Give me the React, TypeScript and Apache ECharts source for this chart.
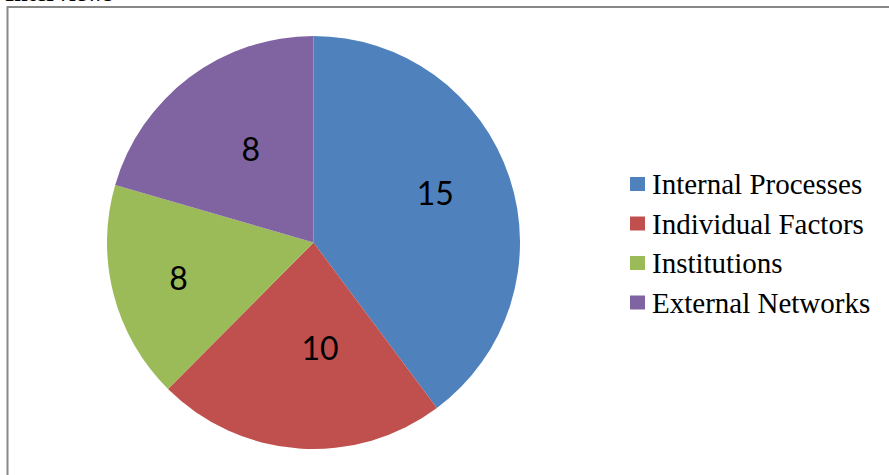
import React, { useEffect, useRef } from "react";
import * as echarts from "echarts";

const categories = ["Internal Processes", "Individual Factors", "Institutions", "External Networks"];
// slice sizes (degrees of the circle)
const sliceDegrees = [143.3, 81.5, 61.4, 73.8];
// values printed on the slices
const labelValues = [15, 10, 8, 8];
const colors = ["#4F81BD", "#C0504D", "#9BBB59", "#8064A2"];
const titleText = "Interviews";

// label nudges relative to the default inside position
const labelNudges = [
  [21, -17],
  [14, -1],
  [-32, 8],
  [1, -9],
];

export default function App() {
  const ref = useRef<HTMLDivElement>(null);
  useEffect(() => {
    if (!ref.current) return;
    const chart = echarts.init(ref.current, null, { renderer: "svg" });
    chart.setOption({
      animation: false,
      color: colors,
      graphic: [
        {
          type: "rect",
          shape: { x: 7.5, y: 7, width: 1000, height: 1000 },
          style: { fill: "none", stroke: "#888888", lineWidth: 2 },
          silent: true,
        },
        {
          type: "text",
          x: 5,
          y: 5,
          style: {
            text: titleText,
            fontFamily: "Liberation Serif, Times New Roman, serif",
            fontWeight: "bold",
            fontSize: 24,
            fill: "#000",
            verticalAlign: "bottom",
          },
        },
      ],
      legend: {
        orient: "vertical",
        left: 625,
        top: 164,
        icon: "rect",
        itemWidth: 15,
        itemHeight: 14,
        itemGap: 9.5,
        data: categories,
        textStyle: {
          fontFamily: "Liberation Serif, Times New Roman, serif",
          fontSize: 29,
          lineHeight: 26,
          color: "#000",
          padding: [4, 0, 0, 2],
        },
      },
      series: [
        {
          type: "pie",
          center: [313.5, 242.5],
          radius: [0, 206.5],
          startAngle: 90,
          clockwise: true,
          avoidLabelOverlap: false,
          itemStyle: { borderWidth: 0 },
          emphasis: { disabled: true },
          label: {
            show: true,
            position: "inside",
            fontFamily: "Lato, Open Sans, sans-serif",
            fontSize: 32,
            color: "#000",
            formatter: (p: any) => String(labelValues[p.dataIndex]),
          },
          labelLine: { show: false },
          labelLayout: (p: any) => ({
            dx: labelNudges[p.dataIndex][0],
            dy: labelNudges[p.dataIndex][1],
          }),
          data: categories.map((name, i) => ({ name, value: sliceDegrees[i] })),
        },
      ],
    });
    return () => chart.dispose();
  }, []);
  return (
    <div
      ref={ref}
      style={{ position: "absolute", left: 0, top: 0, width: 889, height: 475, background: "#fff" }}
    />
  );
}
